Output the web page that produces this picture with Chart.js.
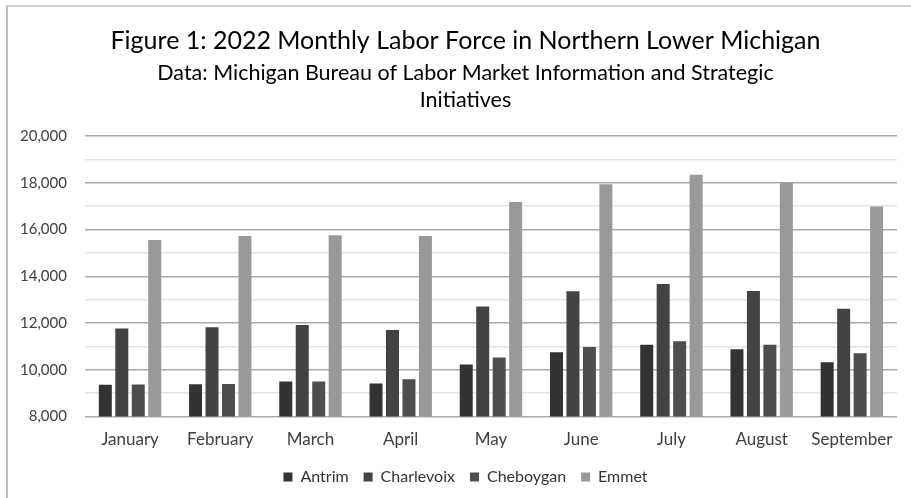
<!DOCTYPE html>
<html>
<head>
<meta charset="utf-8">
<script src="https://cdn.jsdelivr.net/npm/chart.js@4/dist/chart.umd.min.js"></script>
<style>
  html, body { margin: 0; padding: 0; background: #fff; }
  #wrap { position: relative; width: 911px; height: 498px; overflow: hidden; }
  #frame { position: absolute; left: 6px; top: 5px; width: 920px; height: 520px;
           border-left: 2px solid #bdbdbd; border-top: 2px solid #cfcfcf; pointer-events: none; }
  canvas { position: absolute; left: 0; top: 0; }
</style>
</head>
<body>
<div id="wrap">
  <canvas id="c" width="911" height="498"></canvas>
  <div id="frame"></div>
</div>
<script>
const months = ["January","February","March","April","May","June","July","August","September"];
const antrim     = [9360, 9380, 9500, 9420, 10230, 10750, 11080, 10880, 10330];
const charlevoix = [11770, 11820, 11920, 11710, 12710, 13360, 13670, 13380, 12610];
const cheboygan  = [9370, 9400, 9500, 9600, 10530, 10980, 11220, 11080, 10710];
const emmet      = [15560, 15730, 15760, 15730, 17180, 17940, 18350, 18010, 16990];
const seriesNames = ["Antrim","Charlevoix","Cheboygan","Emmet"];
const yMin = 8000, yMax = 20000, yStep = 1000, yLabelStep = 2000;

const colors = ["#333333", "#434343", "#4e4e4e", "#999999"];
const FONT = "Lato, 'Open Sans', sans-serif";

// shift title, subtitle and legend so they are centred like the reference
const shiftBoxes = {
  id: 'shiftBoxes',
  afterLayout(chart) {
    chart.boxes.forEach(b => {
      if (!b.axis && (b.position === 'top' || b.position === 'bottom') && !b._shifted) {
        b.left += 16; b.right += 16; b._shifted = true;
      }
    });
  }
};

new Chart(document.getElementById('c'), {
  type: 'bar',
  plugins: [shiftBoxes],
  data: {
    labels: months,
    datasets: [antrim, charlevoix, cheboygan, emmet].map((d, i) => ({
      label: seriesNames[i],
      data: d,
      backgroundColor: colors[i],
      borderWidth: 0,
      categoryPercentage: 0.73,
      barPercentage: 0.79
    }))
  },
  options: {
    responsive: false,
    animation: false,
    layout: { padding: { left: 2, right: 14, top: 0, bottom: 3 } },
    plugins: {
      title: {
        display: true,
        text: "Figure 1: 2022 Monthly Labor Force in Northern Lower Michigan",
        color: "#000",
        font: { family: FONT, size: 25, weight: 'normal', lineHeight: 1.2 },
        padding: { top: 26, bottom: 2 }
      },
      subtitle: {
        display: true,
        text: ["Data: Michigan Bureau of Labor Market Information and Strategic", "Initiatives"],
        color: "#000",
        font: { family: FONT, size: 21.5, weight: 'normal', lineHeight: 1.26 },
        padding: { top: 1.5, bottom: 22.5 }
      },
      legend: {
        position: 'bottom',
        labels: {
          boxWidth: 9, boxHeight: 9, padding: 15,
          color: "#333333",
          font: { family: FONT, size: 16 }
        }
      },
      tooltip: { enabled: false }
    },
    scales: {
      x: {
        grid: { display: false, tickLength: 8 },
        border: { display: false },
        ticks: { color: "#404040", font: { family: FONT, size: 17 }, padding: 4.5 }
      },
      y: {
        min: yMin, max: yMax,
        border: { display: false },
        grid: {
          drawTicks: false,
          color: ctx => (ctx.tick && ctx.tick.value % yLabelStep === 0) ? "#ababab" : "#e4e4e4",
          lineWidth: 1.6
        },
        ticks: {
          stepSize: yStep,
          padding: 18,
          color: "#404040",
          font: { family: FONT, size: 15 },
          callback: v => (v % yLabelStep === 0) ? v.toLocaleString('en-US') : ''
        }
      }
    }
  }
});
</script>
</body>
</html>
